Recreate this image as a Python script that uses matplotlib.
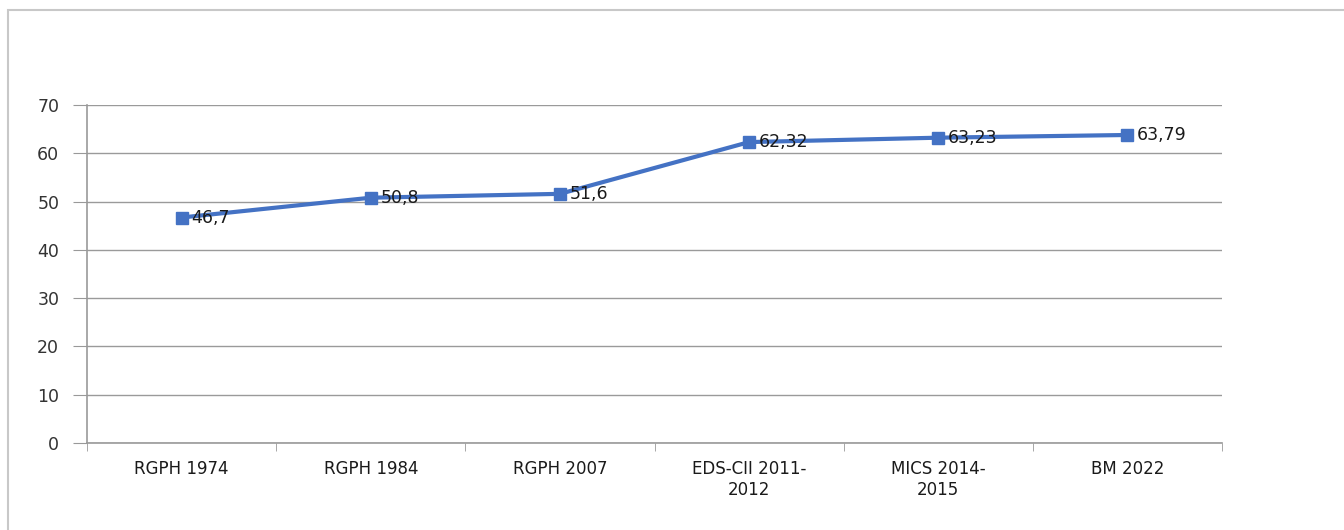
import matplotlib.pyplot as plt
from matplotlib.patches import Rectangle

categories = ['RGPH 1974', 'RGPH 1984', 'RGPH 2007', 'EDS-CII 2011-\n2012', 'MICS 2014-\n2015', 'BM 2022']
values = [46.7, 50.8, 51.6, 62.32, 63.23, 63.79]
labels = ['46,7', '50,8', '51,6', '62,32', '63,23', '63,79']
yticks = [0, 10, 20, 30, 40, 50, 60, 70]

fig = plt.figure(figsize=(13.44, 5.3), dpi=100)

# outer chart frame
fig.patches.append(Rectangle((8 / 1344, -0.01), 1.0, 0.991, transform=fig.transFigure,
                             fill=False, edgecolor='#c8c8c8', linewidth=1.5))

ax = fig.add_axes([87 / 1344, 87 / 530, 1135 / 1344, 338 / 530])
x = list(range(len(categories)))
ax.plot(x, values, color='#4472C4', linewidth=3, marker='s', markersize=8,
        markerfacecolor='#4472C4', markeredgecolor='#4472C4')
for xi, v, t in zip(x, values, labels):
    ax.annotate(t, (xi, v), xytext=(7, 0), textcoords='offset points',
                va='center', ha='left', fontsize=12.5, color='#1a1a1a', family='DejaVu Sans')

ax.set_xlim(-0.5, len(categories) - 0.5)
ax.set_ylim(0, 70)
ax.set_yticks(yticks)
ax.set_xticks(x)
ax.set_xticklabels(categories, fontsize=12, family='DejaVu Sans', color='#1a1a1a', linespacing=1.25)
ax.tick_params(axis='x', length=0, pad=12)
ax.set_xticks([i - 0.5 for i in range(len(categories) + 1)], minor=True)
ax.tick_params(axis='x', which='minor', length=6, color='#999999', direction='out')
ax.tick_params(axis='y', labelsize=12.5, length=10, color='#999999', pad=10, labelcolor='#333333')
ax.grid(axis='y', color='#9a9a9a', linewidth=1)
ax.set_axisbelow(True)
for s in ['top', 'right']:
    ax.spines[s].set_visible(False)
ax.spines['left'].set_color('#999999')
ax.spines['bottom'].set_color('#999999')
ax.spines['left'].set_linewidth(1.2)
ax.spines['bottom'].set_linewidth(1.2)

fig.savefig('out.png', dpi=100)
